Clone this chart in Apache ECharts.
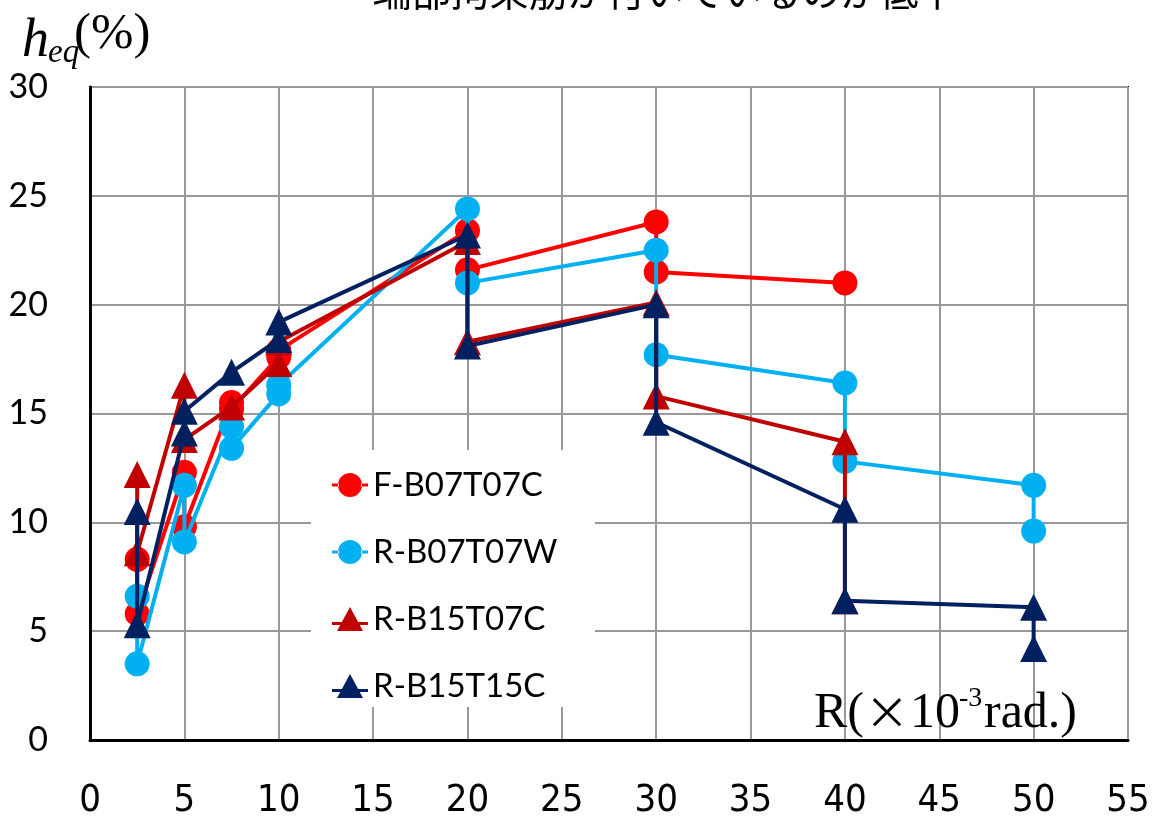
<!DOCTYPE html>
<html>
<head>
<meta charset="utf-8">
<script src="https://cdn.jsdelivr.net/npm/echarts@6/dist/echarts.min.js"></script>
<style>
html,body{margin:0;padding:0;background:#fff;}
#chart{width:1153px;height:822px;}
</style>
</head>
<body>
<div id="chart"></div>
<script>
// ---- data ----
const seriesNames = ['F-B07T07C', 'R-B07T07W', 'R-B15T07C', 'R-B15T15C'];

const fX = [2.5, 2.5, 5, 5, 7.5, 7.5, 10, 10, 20, 20, 30, 30, 40];
const fY = [8.3, 5.8, 12.3, 9.8, 15.5, 15.2, 17.6, 17.9, 23.4, 21.6, 23.8, 21.5, 21.0];

const wX = [2.5, 2.5, 5, 5, 7.5, 7.5, 10, 10, 20, 20, 30, 30, 40, 40, 50, 50];
const wY = [6.6, 3.5, 11.7, 9.1, 14.4, 13.4, 15.9, 16.3, 24.4, 21.0, 22.5, 17.7, 16.4, 12.8, 11.7, 9.6];

const cX = [2.5, 2.5, 5, 5, 7.5, 10, 10, 20, 20, 30, 30, 40, 40];
const cY = [12.2, 8.6, 16.3, 13.8, 15.3, 17.3, 18.3, 22.9, 18.3, 20.1, 15.8, 13.7, 6.4];

const nX = [2.5, 2.5, 5, 5, 7.5, 10, 10, 20, 20, 30, 30, 40, 40, 50, 50];
const nY = [10.5, 5.3, 14.1, 15.1, 16.9, 18.4, 19.2, 23.2, 18.1, 20.0, 14.6, 10.6, 6.4, 6.1, 4.2];

const xTicks = [0, 5, 10, 15, 20, 25, 30, 35, 40, 45, 50, 55];
const yTicks = [0, 5, 10, 15, 20, 25, 30];

const titleText = '端部拘束筋が付いているのが低下';
// ----------------

const zip = (xs, ys) => xs.map((x, i) => [x, ys[i]]);
const colors = ['#FF0000', '#00B0F0', '#C00000', '#002060'];
const symbols = ['circle', 'circle', 'triangle', 'triangle'];
const datas = [zip(fX, fY), zip(wX, wY), zip(cX, cY), zip(nX, nY)];

// legend icons: a short line with the marker on it (box 36 x 24), non-overlapping parts
const circleIcon = 'path://M0,10.5H7V13.5H0Z M29,10.5H36V13.5H29Z M6,12a12,12 0 1,0 24,0a12,12 0 1,0 -24,0Z';
const triIcon = 'path://M0,15H10.5V18H0Z M25.5,15H36V18H25.5Z M18,0L31,24L5,24Z';
const legendIcons = [circleIcon, circleIcon, triIcon, triIcon];

const chart = echarts.init(document.getElementById('chart'), null, {renderer: 'canvas'});

const series = seriesNames.map((name, i) => ({
  name: name,
  type: 'line',
  data: datas[i],
  symbol: symbols[i],
  symbolSize: i < 2 ? 25 : 27,
  showSymbol: true,
  lineStyle: {color: colors[i], width: 4},
  itemStyle: {color: colors[i], borderWidth: 0},
  emphasis: {disabled: true},
  animation: false,
  z: 3 + i
}));

const serif = "'Liberation Serif'";
const option = {
  animation: false,
  backgroundColor: '#ffffff',
  grid: {left: 90, right: 25, top: 87, bottom: 82, show: true, borderColor: '#000', borderWidth: 2},
  xAxis: {
    type: 'value', min: xTicks[0], max: xTicks[xTicks.length - 1], interval: 5,
    axisLine: {show: true, onZero: false, lineStyle: {color: '#000', width: 3}},
    axisTick: {show: false},
    splitLine: {show: true, lineStyle: {color: '#999', width: 2}},
    axisLabel: {color: '#000', fontSize: 38, fontFamily: "'Liberation Sans Narrow', 'DejaVu Sans Condensed', Lato, sans-serif", margin: 42}
  },
  yAxis: {
    type: 'value', min: yTicks[0], max: yTicks[yTicks.length - 1], interval: 5,
    axisLine: {show: true, onZero: false, lineStyle: {color: '#000', width: 3}},
    axisTick: {show: false},
    splitLine: {show: true, lineStyle: {color: '#999', width: 2}},
    axisLabel: {color: '#000', fontSize: 34, fontFamily: 'Lato, sans-serif', margin: 42}
  },
  legend: {
    orient: 'vertical',
    left: 332, top: 468,
    itemWidth: 36, itemHeight: 24, itemGap: 33,
    padding: 0,
    textStyle: {fontSize: 33, lineHeight: 34, color: '#000', fontFamily: 'Lato, sans-serif', padding: [0, 0, 0, 0]},
    data: seriesNames.map((n, i) => ({name: n, icon: legendIcons[i]}))
  },
  graphic: [
    {type: 'rect', z: 1, shape: {x: 311, y: 450, width: 284, height: 257}, style: {fill: '#fff'}, silent: true},
    {type: 'text', z: 10, x: 665, y: -9, style: {text: titleText, font: "39px 'Noto Sans CJK JP'", fill: '#000', align: 'center', verticalAlign: 'middle'}},
    {type: 'text', z: 10, x: 22, y: 42, style: {text: 'h', font: "italic 54px " + serif, fill: '#000', align: 'left', verticalAlign: 'middle'}},
    {type: 'text', z: 10, x: 48, y: 53, style: {text: 'eq', font: "italic 33px " + serif, fill: '#000', align: 'left', verticalAlign: 'middle'}},
    {type: 'text', z: 10, x: 74, y: 35, style: {text: '(%)', font: "51px " + serif, fill: '#000', align: 'left', verticalAlign: 'middle'}},
    {type: 'text', z: 10, x: 814, y: 714, style: {text: 'R(', font: "50px " + serif, fill: '#000', align: 'left', verticalAlign: 'middle'}},
    {type: 'text', z: 10, x: 887, y: 712, style: {text: '×', font: "44px 'Noto Sans CJK JP'", fill: '#000', align: 'center', verticalAlign: 'middle'}},
    {type: 'text', z: 10, x: 910, y: 714, style: {text: '10', font: "50px " + serif, fill: '#000', align: 'left', verticalAlign: 'middle'}},
    {type: 'text', z: 10, x: 959, y: 699, style: {text: '-3', font: "28px " + serif, fill: '#000', align: 'left', verticalAlign: 'middle'}},
    {type: 'text', z: 10, x: 984, y: 714, style: {text: 'rad.)', font: "50px " + serif, fill: '#000', align: 'left', verticalAlign: 'middle'}}
  ],
  series: series
};
chart.setOption(option);
</script>
</body>
</html>
